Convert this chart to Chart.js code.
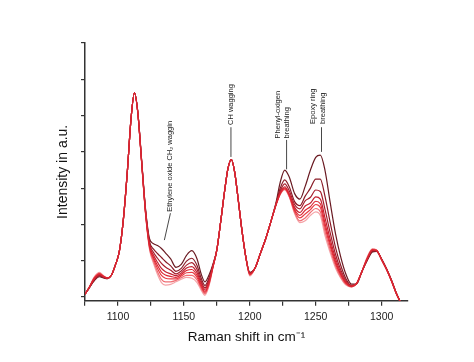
<!DOCTYPE html>
<html><head><meta charset="utf-8">
<script src="https://cdn.jsdelivr.net/npm/chart.js@4"></script>
<style>html,body{margin:0;padding:0;background:#fff}#wrap{width:474px;height:362px}</style>
</head><body><div id="wrap"><canvas id="c" width="474" height="362"></canvas></div>
<script>
const ramanShift = [1075,1078,1082,1086,1089,1092,1095,1098,1101,1104,1107,1110,1112.5,1115,1118,1121,
1124,1127,1130,1133,1136,1140,1144,1148,1152,1156,1160,1163,1166,1169,1172,
1175,1178,1181,1183.5,1186,1188.5,1191,1194,1197,1200,1204,1208,1212,1216,
1220,1223,1226.5,1230,1234,1238,1242,1246,1250,1253.5,1257,1261,1265,1269,1273,1277,1281,
1285,1289,1293,1296,1300,1304,1308,1311,1314];

const s1 = [0.08,0.24,0.45,0.56,0.53,0.51,0.60,0.88,1.25,2.10,3.40,4.95,5.63,5.12,3.75,2.40,
1.60,1.47,1.42,1.34,1.22,1.05,0.82,0.90,1.15,1.28,1.05,0.65,0.42,0.60,0.90,
1.30,2.10,2.95,3.55,3.79,3.45,2.75,1.85,1.10,0.68,0.80,1.20,1.60,2.08,
2.62,3.15,3.50,3.30,2.85,2.70,3.05,3.50,3.85,3.91,3.50,2.60,1.75,1.10,0.62,0.36,0.36,
0.70,1.00,1.24,1.26,1.05,0.76,0.42,0.12,-0.12];
const s2 = [0.08,0.24,0.47,0.58,0.54,0.51,0.60,0.88,1.25,2.10,3.40,4.95,5.63,5.12,3.74,2.37,
1.52,1.32,1.20,1.09,0.98,0.86,0.71,0.79,0.99,1.07,0.87,0.53,0.32,0.52,0.87,
1.30,2.10,2.95,3.55,3.79,3.45,2.75,1.85,1.10,0.67,0.80,1.20,1.60,2.08,
2.59,2.99,3.23,3.03,2.63,2.52,2.78,3.00,3.25,3.25,2.78,2.05,1.37,0.87,0.50,0.33,0.37,
0.70,1.02,1.26,1.27,1.04,0.75,0.41,0.12,-0.12];
const s3 = [0.08,0.25,0.48,0.60,0.55,0.52,0.60,0.88,1.25,2.10,3.40,4.95,5.63,5.11,3.72,2.34,
1.47,1.23,1.07,0.93,0.83,0.74,0.64,0.72,0.88,0.95,0.76,0.45,0.26,0.47,0.86,
1.30,2.10,2.95,3.55,3.79,3.45,2.75,1.85,1.10,0.66,0.80,1.20,1.60,2.08,
2.57,2.92,3.12,2.92,2.55,2.43,2.65,2.75,2.95,2.91,2.42,1.77,1.18,0.75,0.45,0.31,0.37,
0.70,1.03,1.28,1.28,1.04,0.75,0.41,0.12,-0.12];
const s4 = [0.08,0.25,0.50,0.62,0.56,0.52,0.60,0.88,1.25,2.10,3.40,4.95,5.63,5.10,3.71,2.32,
1.43,1.15,0.96,0.79,0.70,0.64,0.59,0.66,0.80,0.84,0.67,0.39,0.21,0.43,0.84,
1.30,2.10,2.95,3.55,3.79,3.45,2.75,1.85,1.10,0.65,0.80,1.20,1.60,2.08,
2.56,2.88,3.04,2.84,2.47,2.33,2.51,2.59,2.76,2.70,2.19,1.59,1.06,0.68,0.41,0.30,0.37,
0.70,1.04,1.29,1.28,1.03,0.75,0.40,0.11,-0.12];
const s5 = [0.08,0.25,0.51,0.63,0.57,0.52,0.60,0.88,1.25,2.10,3.40,4.95,5.63,5.10,3.70,2.30,
1.39,1.09,0.87,0.69,0.61,0.57,0.54,0.62,0.73,0.76,0.60,0.34,0.16,0.39,0.83,
1.30,2.10,2.95,3.55,3.79,3.45,2.75,1.85,1.10,0.63,0.80,1.20,1.60,2.08,
2.56,2.85,3.01,2.81,2.41,2.25,2.39,2.49,2.64,2.57,2.04,1.48,0.98,0.63,0.39,0.30,0.37,
0.70,1.05,1.30,1.29,1.03,0.74,0.40,0.11,-0.12];
const s6 = [0.08,0.25,0.52,0.65,0.57,0.52,0.60,0.88,1.25,2.10,3.40,4.95,5.63,5.10,3.70,2.28,
1.36,1.04,0.79,0.60,0.52,0.50,0.50,0.58,0.67,0.68,0.54,0.29,0.13,0.36,0.82,
1.30,2.10,2.95,3.55,3.79,3.45,2.75,1.85,1.10,0.62,0.80,1.20,1.60,2.08,
2.55,2.84,2.98,2.78,2.37,2.18,2.29,2.41,2.55,2.47,1.93,1.40,0.92,0.60,0.37,0.29,0.38,
0.70,1.06,1.31,1.29,1.03,0.74,0.40,0.11,-0.12];
const s7 = [0.08,0.26,0.54,0.66,0.58,0.53,0.60,0.88,1.25,2.10,3.40,4.95,5.63,5.09,3.69,2.27,
1.33,0.98,0.70,0.49,0.42,0.42,0.46,0.53,0.60,0.60,0.47,0.25,0.09,0.33,0.81,
1.30,2.10,2.95,3.55,3.79,3.45,2.75,1.85,1.10,0.60,0.80,1.20,1.60,2.08,
2.55,2.83,2.97,2.77,2.33,2.10,2.18,2.33,2.44,2.35,1.81,1.30,0.86,0.55,0.35,0.28,0.38,
0.70,1.08,1.32,1.30,1.02,0.74,0.39,0.10,-0.12];
const s8 = [0.08,0.26,0.55,0.68,0.59,0.53,0.60,0.88,1.25,2.10,3.40,4.95,5.63,5.09,3.68,2.25,
1.30,0.92,0.62,0.40,0.33,0.35,0.42,0.49,0.54,0.52,0.40,0.20,0.05,0.30,0.80,
1.30,2.10,2.95,3.55,3.79,3.45,2.75,1.85,1.10,0.58,0.80,1.20,1.60,2.08,
2.55,2.82,2.95,2.75,2.30,2.05,2.10,2.25,2.35,2.25,1.70,1.22,0.80,0.52,0.33,0.28,0.38,
0.70,1.10,1.33,1.30,1.02,0.73,0.39,0.10,-0.12];

const xTicks = [1075,1100,1125,1150,1175,1200,1225,1250,1275,1300];
const xTickLabels = ['','1100','','1150','','1200','','1250','','1300'];
const yTicks = [0,1,2,3,4,5,6,7];

const seriesList = [s1,s2,s3,s4,s5,s6,s7,s8];
const colors = ['#6a1a22','#8a1b27','#a61d2b','#c1202f','#dc2632','#e83d45','#f06e74','#f5a3a7'];
const drawOrder = [7,5,3,1,0,2,4,6];

const annotations = [
  {lines:['Ethylene oxide CH\u2082 waggin'], xs:[1139.1], base:2.35, leader:[[1139.8,2.31],[1135.2,1.57]]},
  {lines:['CH wagging'], xs:[1185.7], base:4.74, leader:[[1185.7,4.68],[1185.7,3.86]]},
  {lines:['Phenyl-oxigen','breathing'], xs:[1221.1,1228.4], base:4.37, leader:[[1227.9,4.33],[1227.9,3.52]]},
  {lines:['Epoxy ring','breathing'], xs:[1247.7,1255.4], base:4.77, leader:[[1254.4,4.68],[1254.4,4.0]]}
];

const annotPlugin = {
  id:'annot',
  afterDatasetsDraw(chart){
    const ctx = chart.ctx, xs = chart.scales.x, ys = chart.scales.y;
    ctx.save();
    ctx.fillStyle = '#222';
    ctx.strokeStyle = '#333';
    ctx.lineWidth = 0.9;
    ctx.font = '7.5px "Liberation Sans", Arial, sans-serif';
    annotations.forEach(a=>{
      a.lines.forEach((t,i)=>{
        ctx.save();
        ctx.translate(xs.getPixelForValue(a.xs[i]), ys.getPixelForValue(a.base));
        ctx.rotate(-Math.PI/2);
        ctx.textAlign='left'; ctx.textBaseline='middle';
        ctx.fillText(t,0,0);
        ctx.restore();
      });
      ctx.beginPath();
      ctx.moveTo(xs.getPixelForValue(a.leader[0][0]), ys.getPixelForValue(a.leader[0][1]));
      ctx.lineTo(xs.getPixelForValue(a.leader[1][0]), ys.getPixelForValue(a.leader[1][1]));
      ctx.stroke();
    });
    ctx.restore();
  }
};

const datasets = seriesList.map((s,k)=>({
  data: ramanShift.map((x,i)=>({x, y:s[i]})),
  borderColor: colors[k],
  borderWidth: 1.2,
  pointRadius: 0,
  fill: false,
  cubicInterpolationMode: 'monotone',
  order: drawOrder[k]
}));

new Chart(document.getElementById('c'), {
  type:'line',
  data:{datasets},
  plugins:[annotPlugin],
  options:{
    responsive:false, animation:false, devicePixelRatio:1,
    layout:{padding:{top:43,right:66,left:0,bottom:0}},
    plugins:{legend:{display:false}, tooltip:{enabled:false}},
    scales:{
      x:{
        type:'linear', min:1075, max:1320,
        afterBuildTicks:s=>{s.ticks = xTicks.map(v=>({value:v}));},
        afterFit:s=>{s.height = 61.3;},
        ticks:{autoSkip:false, maxRotation:0, padding:5, color:'#222',
          font:{family:'"Liberation Sans", Arial, sans-serif', size:10.5},
          callback:(v,i)=>xTickLabels[i]},
        grid:{drawOnChartArea:false, drawTicks:true, tickLength:5, color:'#333', lineWidth:1.2},
        border:{color:'#333', width:1.5},
        title:{display:true, text:'Raman shift in cm\u207B\u00B9', color:'#111',
          font:{family:'"Liberation Sans", Arial, sans-serif', size:13.5}, padding:{top:0,bottom:17}}
      },
      y:{
        type:'linear', min:-0.1, max:7,
        afterBuildTicks:s=>{s.ticks = yTicks.map(v=>({value:v}));},
        afterFit:s=>{s.width = 85;},
        ticks:{display:false},
        grid:{drawOnChartArea:false, drawTicks:true, tickLength:4, color:'#333', lineWidth:1.2},
        border:{color:'#333', width:1.5},
        title:{display:true, text:'Intensity in a.u.', color:'#111',
          font:{family:'"Liberation Sans", Arial, sans-serif', size:14}, padding:{top:54.6,bottom:0}}
      }
    }
  }
});
</script></body></html>
